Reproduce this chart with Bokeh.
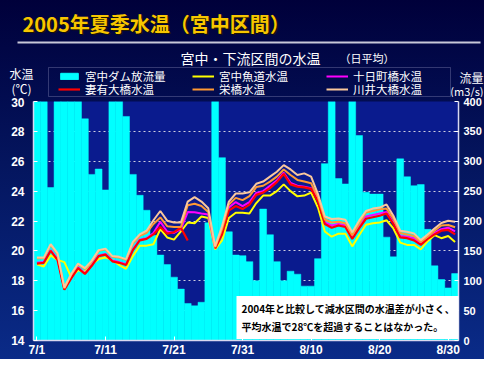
import numpy as np
import pandas as pd
from bokeh.plotting import figure
from bokeh.models import (Range1d, LinearAxis, FixedTicker, ColumnDataSource,
                          Legend, LegendItem, Label, BoxAnnotation)
from bokeh.embed import file_html
from bokeh.resources import INLINE

NaN = float("nan")

# ---------------- data ----------------
dates = [f"{d.month}/{d.day}" for d in pd.date_range("2005-07-01", "2005-08-31")]
date_ticks = ["7/1", "7/11", "7/21", "7/31", "8/10", "8/20", "8/30"]
temp_ticks = [14, 16, 18, 20, 22, 24, 26, 28, 30]
flow_ticks = [0, 50, 100, 150, 200, 250, 300, 350, 400]

# 宮中ダム放流量 (m3/s)
flow = [420, 420, 256, 420, 420, 420, 420, 371, 278, 287,
        252, 420, 420, 375, 278, 243, 218, 176, 143, 127,
        106, 86, 62, 58, 64, 197, 420, 306, 182, 143,
        142, 132, 100, 220, 177, 132, 100, 116, 111, 91,
        91, 137, 296, 420, 271, 262, 420, 343, 248, 245,
        245, 173, 140, 304, 274, 259, 261, 186, 125, 102,
        88, 112]

# 宮中魚道水温
t_gyodo = [19.1, 18.95, 19.7, 19.4, 19.25, 18.25, 18.7, 18.6, 19.1, 19.45,
           19.55, 19.4, 19.05, 18.8, 19.65, 20.35, 20.35, 20.45, 21.45, 20.9,
           20.75, 21.3, 21.9, 21.85, 22.3, 22.2, 20.1, 20.7, 22.2, 22.55,
           22.55, 22.5, 23.2, 23.7, 23.7, 24.0, 24.45, 24.0, 23.65, 23.7,
           23.9, 22.9, 21.3, 20.95, 21.15, 21.15, 20.3, 21.05, 21.75, 21.85,
           21.9, 22.05, 21.5, 20.55, 20.4, 20.4, 20.1, 20.65, 21.05, 20.85,
           21.0, 20.6]

# 妻有大橋水温
t_tsumari = [19.15, 19.2, 20.0, 19.4, 17.4, 18.15, 18.85, 18.45, 19.0, 19.65,
             19.75, 19.3, 19.2, 19.05, 20.05, 20.7, 20.8, 21.1, 21.6, 21.15,
             21.25, 21.55, 20.7, NaN, NaN, NaN, 20.15, 21.1, 22.7, 23.0,
             22.8, 23.1, 23.75, 23.9, 24.2, 24.6, 25.15, 24.45, 24.3, 24.25,
             24.15, 23.3, 21.8, 21.55, 21.7, 21.6, 20.8, 21.5, 22.15, 22.25,
             22.35, 22.5, 21.8, 20.9, 20.85, 20.7, 20.4, 20.8, 21.1, 21.35,
             21.4, 21.1]

# 十日町橋水温
t_tokamachi = [19.2, 19.25, 20.05, 19.45, 17.45, 18.2, 18.9, 18.5, 19.05, 19.7,
               19.8, 19.35, 19.25, 19.1, 20.1, 20.75, 20.85, 21.2, 21.95, 21.3,
               21.2, 21.45, 22.6, 22.58, 22.5, 22.43, 20.2, 21.25, 22.9, 23.27,
               23.0, 23.27, 23.88, 24.0, 24.36, 24.7, 25.23, 24.55, 24.36, 24.3,
               24.2, 23.45, 21.9, 21.7, 21.8, 21.7, 20.93, 21.6, 22.3, 22.4,
               22.5, 22.6, 21.9, 21.0, 20.95, 20.85, 20.5, 20.85, 21.2, 21.45,
               21.55, 21.3]

# 栄橋水温
t_sakae = [19.5, 19.5, 20.4, 19.8, 17.5, 18.4, 19.1, 18.8, 19.3, 20.0,
           20.1, 19.6, 19.55, 19.4, 20.5, 21.0, 21.2, 21.8, 22.24, 21.65,
           21.6, 21.6, 23.05, 23.15, 23.0, 22.6, 20.25, 21.45, 23.1, 23.55,
           23.4, 23.66, 24.27, 24.36, 24.64, 24.97, 25.45, 25.08, 24.75, 24.64,
           24.53, 23.6, 22.1, 21.9, 21.95, 21.85, 21.04, 21.8, 22.57, 22.67,
           22.78, 22.83, 22.15, 21.2, 21.1, 21.0, 20.6, 20.95, 21.35, 21.7,
           21.73, 21.58]

# 川井大橋水温
t_kawai = [19.55, 19.55, 20.45, 19.85, 17.55, 18.45, 19.15, 18.85, 19.35, 20.05,
           20.15, 19.65, 19.6, 19.45, 20.6, 21.1, 21.35, 22.05, 22.67, 22.02,
           21.9, 21.9, 23.3, 23.6, 23.3, 22.85, 20.3, 21.65, 23.3, 23.84,
           23.84, 23.92, 24.49, 24.64, 24.97, 25.3, 25.74, 25.45, 25.08, 25.19,
           24.97, 23.8, 22.3, 22.13, 22.17, 22.08, 21.25, 22.02, 22.67, 22.83,
           22.9, 23.11, 22.35, 21.35, 21.28, 21.17, 20.72, 21.1, 21.5, 21.87,
           22.02, 21.95]

series = [  # (legend label, column, colour, width)
    ("宮中魚道水温", "gyodo", "#FFFF00", 2),
    ("十日町橋水温", "tokamachi", "#FF00FF", 2),
    ("妻有大橋水温", "tsumari", "#FF0000", 2.2),
    ("栄橋水温", "sakae", "#FF9933", 2),
    ("川井大橋水温", "kawai", "#FAC89C", 2),
]
BAR_LABEL = "宮中ダム放流量"
CYAN = "#00FFFF"
jp = "Noto Sans CJK JP"
leg_font = "Liberation Sans, Noto Sans CJK JP"

W = 484
HEAD_H = 97
MAIN_H = 359 - HEAD_H

xc = np.arange(len(dates)) + 0.5
src = ColumnDataSource(dict(x=xc, flow=flow, gyodo=t_gyodo, tsumari=t_tsumari,
                            tokamachi=t_tokamachi, sakae=t_sakae, kawai=t_kawai))

# ---------------- header (title, legend, captions) ----------------
# its ranges lie outside the data, so its renderers only feed the legend swatches
head = figure(width=W, height=HEAD_H, x_range=Range1d(-3, -2), y_range=Range1d(-3, -2),
              min_border=0, x_axis_location=None, y_axis_location=None,
              toolbar_location=None, output_backend="svg",
              outline_line_color=None, background_fill_alpha=0, border_fill_alpha=0)
head.grid.visible = False
head.styles = {"background": "linear-gradient(180deg, #00003A 0%, #020C50 100%)"}


def hy(a):
    return HEAD_H - a


def hlabel(x, y, text, size, color="white", style="normal", align="left"):
    head.add_layout(Label(x=x, y=hy(y), x_units="screen", y_units="screen",
                          text=text, text_font=jp, text_font_size=size,
                          text_font_style=style, text_color=color,
                          text_baseline="middle", text_align=align))


title_txt = "2005年夏季水温（宮中区間）"
hlabel(23.5, 24, title_txt, "20px", color="#1E1600", style="bold")
hlabel(22, 22.5, title_txt, "20px", color="#F7C600", style="bold")

head.add_layout(BoxAnnotation(left=17, right=480, top=hy(41), bottom=hy(43),
                              left_units="screen", right_units="screen",
                              top_units="screen", bottom_units="screen",
                              fill_color="#C8C8D8", fill_alpha=1, line_color=None))

hlabel(180, 57, "宮中・下流区間の水温", "14px")
hlabel(339, 57, "（日平均）", "11px")
hlabel(9, 73, "水温", "12px")
hlabel(11, 88, "(℃)", "12px")
hlabel(483, 77, "流量", "12px", align="right")
hlabel(483, 90, "(m3/s)", "11px", align="right")

# legend frame
head.add_layout(BoxAnnotation(left=48, right=450, top=hy(67), bottom=hy(96),
                              left_units="screen", right_units="screen",
                              top_units="screen", bottom_units="screen",
                              fill_alpha=0, line_color="#A8A8D0", line_width=1))

bar_r = head.vbar(x="x", width=1.0, top="flow", bottom=0, source=src,
                  fill_color=CYAN, line_color=CYAN)
line_r = {}
for lab, col, colr, lw in series:
    line_r[lab] = head.line(x="x", y=col, source=src, line_color=colr, line_width=lw)

row1 = [(BAR_LABEL, bar_r), (series[0][0], line_r[series[0][0]]),
        (series[1][0], line_r[series[1][0]])]
row2 = [(lab, line_r[lab]) for lab, *_ in series[2:]]

LEG_H = 13  # label box height of 11.5px text
for row, yc in [(row1, 77), (row2, 90)]:
    head.add_layout(Legend(
        items=[LegendItem(label=lab, renderers=[r]) for lab, r in row],
        location=(58, hy(yc + LEG_H / 2)), orientation="horizontal",
        padding=0, spacing=0, margin=0, label_width=107, label_height=12,
        glyph_height=8, glyph_width=22, label_standoff=5,
        label_text_font=leg_font, label_text_font_size="11.5px",
        label_text_color="white", border_line_color=None,
        background_fill_alpha=0))

# ---------------- main chart ----------------
FRAME_L, FRAME_R, FRAME_T, FRAME_B = 33, 460, 101, 342
p = figure(width=W, height=MAIN_H,
           x_range=Range1d(0, len(dates)),
           y_range=Range1d(temp_ticks[0], temp_ticks[-1]),
           output_backend="svg", toolbar_location=None,
           min_border_left=FRAME_L, min_border_right=W - FRAME_R,
           min_border_top=FRAME_T - HEAD_H, min_border_bottom=359 - FRAME_B,
           background_fill_color="#0A1B8E", border_fill_alpha=0,
           outline_line_color=None)
p.styles = {"background": "linear-gradient(180deg, #020C50 0%, #04155E 25%, #0A2B88 100%)"}
p.extra_y_ranges = {"flow": Range1d(flow_ticks[0], flow_ticks[-1])}

p.vbar(x="x", width=1.0, top="flow", bottom=0, y_range_name="flow",
       source=src, fill_color=CYAN, line_color=CYAN, line_width=0.5)
for lab, col, colr, lw in series:
    p.line(x="x", y=col, source=src, line_color=colr, line_width=lw)

axis_col = "#D8D8F0"
p.xaxis.ticker = FixedTicker(ticks=[dates.index(d) + 0.5 for d in date_ticks])
p.xaxis.major_label_overrides = {dates.index(d) + 0.5: d for d in date_ticks}
p.yaxis.ticker = FixedTicker(ticks=temp_ticks)

right = LinearAxis(y_range_name="flow", ticker=FixedTicker(ticks=flow_ticks))
p.add_layout(right, "right")

for ax in [p.xaxis[0], p.yaxis[0], right]:
    ax.axis_line_color = axis_col
    ax.axis_line_width = 1.5
    ax.major_tick_in = 4
    ax.major_tick_out = 0
    ax.major_tick_line_color = "white"
    ax.minor_tick_line_color = None
    ax.major_label_text_color = "white"
    ax.major_label_text_font = "Liberation Sans"
    ax.major_label_text_font_style = "bold"
    ax.major_label_text_font_size = "12px"

right.major_label_text_font_size = "11px"
p.xaxis.major_label_standoff = 2
p.yaxis[0].major_label_standoff = 9
right.major_label_standoff = 5

p.xgrid.visible = False
p.ygrid.ticker = FixedTicker(ticks=temp_ticks)
p.ygrid.grid_line_color = "#D0D0E0"
p.ygrid.grid_line_dash = "2 3"
p.ygrid.grid_line_width = 1

note = "2004年と比較して減水区間の水温差が小さく、\n平均水温で28℃を超過することはなかった。"
p.add_layout(Label(x=236 - FRAME_L, y=23, x_units="screen", y_units="screen",
                   text=note, text_font=jp, text_font_size="10px",
                   text_font_style="bold", text_color="black",
                   text_baseline="middle", text_align="left",
                   background_fill_color="white", background_fill_alpha=1,
                   padding=5, text_line_height=1.2))

open("out.html", "w").write(file_html([head, p], INLINE))
